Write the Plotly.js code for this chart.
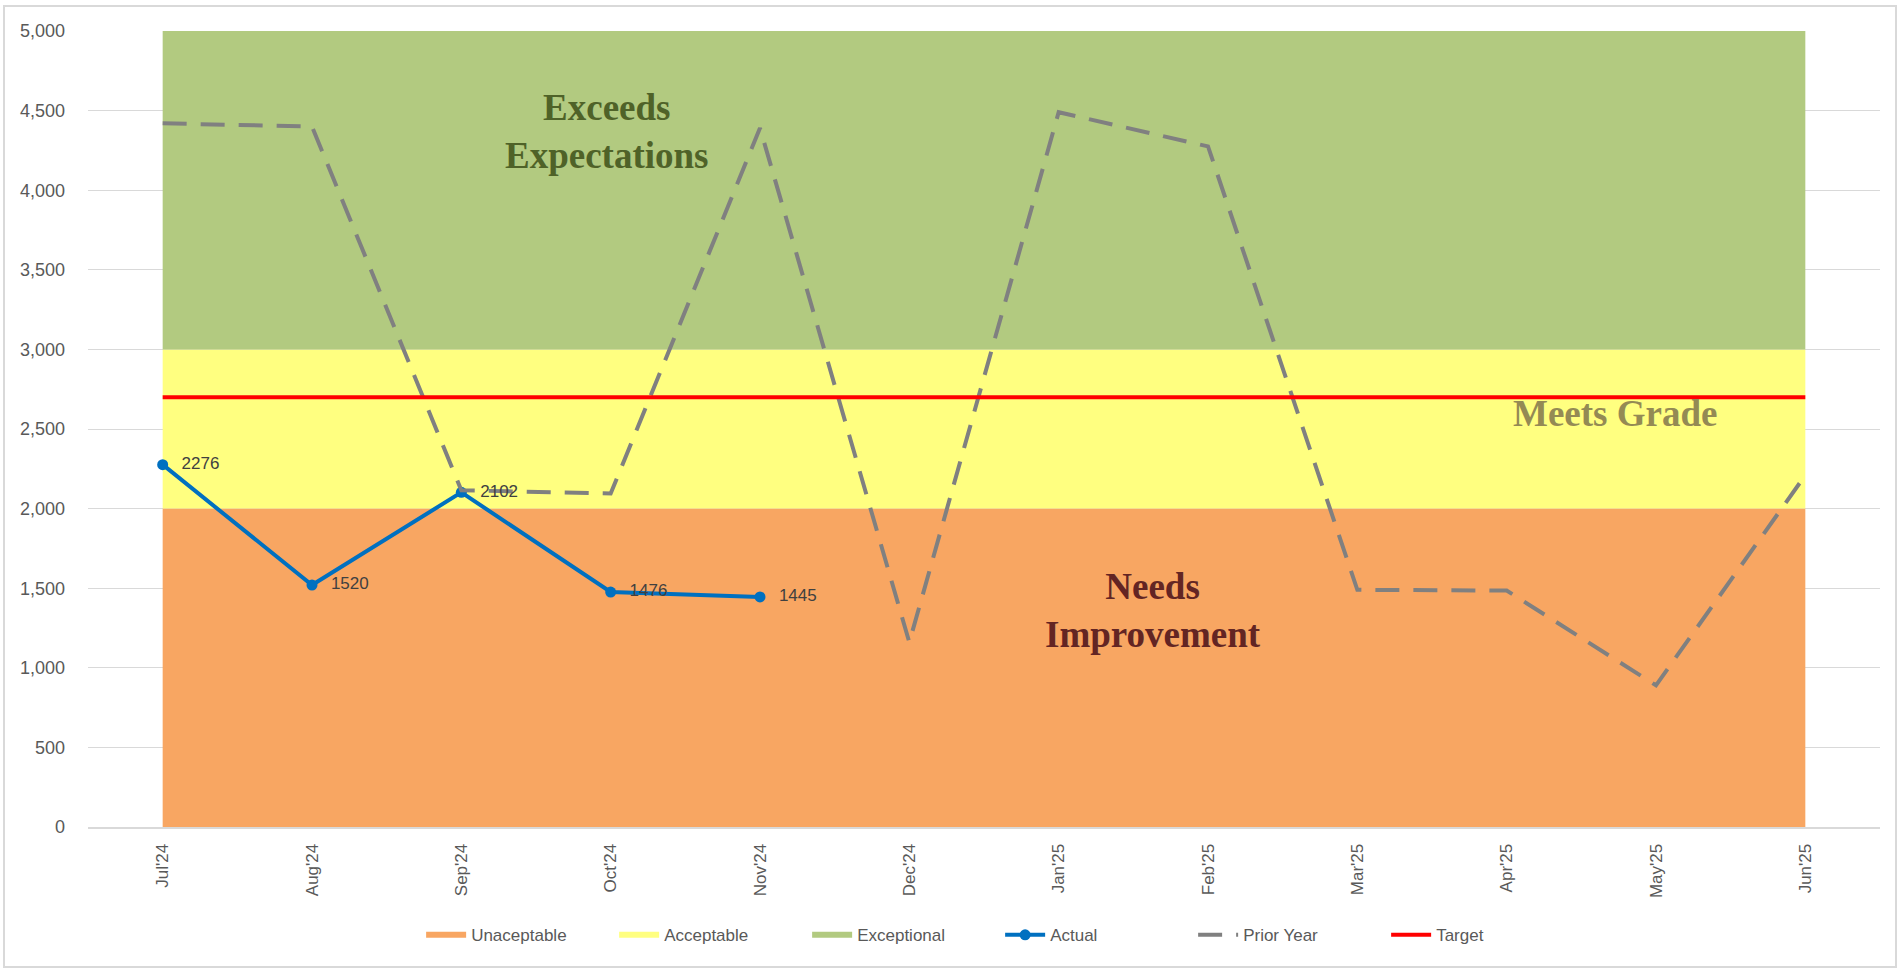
<!DOCTYPE html>
<html>
<head>
<meta charset="utf-8">
<script src="https://cdn.plot.ly/plotly-3.0.1.min.js"></script>
<style>
  html, body { margin: 0; padding: 0; background: #ffffff; }
  #wrap { position: relative; width: 1903px; height: 973px; }
  #chart { position: absolute; left: 0; top: 0; width: 1903px; height: 973px; }
  #frame { position: absolute; left: 3px; top: 5px; width: 1894px; height: 963px; border: 2px solid #d9d9d9; pointer-events: none; box-sizing: border-box; }
</style>
</head>
<body>
<div id="wrap">
  <div id="chart"></div>
  <div id="frame"></div>
</div>
<script>
// ---- data ----
const months = ["Jul'24","Aug'24","Sep'24","Oct'24","Nov'24","Dec'24","Jan'25","Feb'25","Mar'25","Apr'25","May'25","Jun'25"];
const unacceptable = [2000,2000,2000,2000,2000,2000,2000,2000,2000,2000,2000,2000];
const acceptable   = [1000,1000,1000,1000,1000,1000,1000,1000,1000,1000,1000,1000];
const exceptional  = [2000,2000,2000,2000,2000,2000,2000,2000,2000,2000,2000,2000];
const actualMonths = ["Jul'24","Aug'24","Sep'24","Oct'24","Nov'24"];
const actual = [2276,1520,2102,1476,1445];
const priorYear = [4420,4400,2115,2095,4390,1160,4490,4275,1490,1485,890,2210];
const target = [2700,2700,2700,2700,2700,2700,2700,2700,2700,2700,2700,2700];
const yTicks = [0,500,1000,1500,2000,2500,3000,3500,4000,4500,5000];

const narrow = '"Liberation Sans Narrow", "Arial Narrow", "Liberation Sans", Arial, sans-serif';
const sans = '"Liberation Sans", Arial, sans-serif';
const serif = '"Liberation Serif", "Times New Roman", serif';

const pad = '\u00a0\u00a0\u00a0\u00a0';

const traces = [
  { name: 'Unaceptable', x: months, y: unacceptable, type: 'scatter', mode: 'none',
    stackgroup: 'bands', fillcolor: '#F8A662', line: {width: 0}, hoverinfo: 'skip' },
  { name: 'Acceptable', x: months, y: acceptable, type: 'scatter', mode: 'none',
    stackgroup: 'bands', fillcolor: '#FFFF80', line: {width: 0}, hoverinfo: 'skip' },
  { name: 'Exceptional', x: months, y: exceptional, type: 'scatter', mode: 'none',
    stackgroup: 'bands', fillcolor: '#B2CA80', line: {width: 0}, hoverinfo: 'skip' },
  { name: 'Actual', x: actualMonths, y: actual, type: 'scatter', mode: 'lines+markers',
    line: {color: '#0070C0', width: 4}, marker: {color: '#0070C0', size: 11, symbol: 'circle'} },
  { name: 'Prior Year', x: months, y: priorYear, type: 'scatter', mode: 'lines',
    line: {color: '#808080', width: 4, dash: '24px,14px'} },
  { name: 'Target', x: months, y: target, type: 'scatter', mode: 'lines',
    line: {color: '#FF0000', width: 4} },
  { name: 'Actual labels', x: actualMonths, y: actual, type: 'scatter', mode: 'text',
    text: actual.map(v => pad + String(v)), textposition: 'middle right',
    textfont: {family: narrow, size: 17, color: '#404040'}, showlegend: false, hoverinfo: 'skip' }
];

const layout = {
  width: 1903, height: 973,
  margin: {l: 88, r: 23, t: 31, b: 146},
  paper_bgcolor: 'rgba(0,0,0,0)', plot_bgcolor: '#ffffff',
  showlegend: true,
  legend: {
    orientation: 'h', x: 0.509, xanchor: 'center', y: -0.136, yanchor: 'middle',
    font: {family: narrow, size: 17, color: '#595959'}, traceorder: 'normal',
    itemwidth: 40, entrywidth: 138, entrywidthmode: 'pixels'
  },
  xaxis: {
    type: 'category', range: [-0.5, 11.5],
    tickangle: -90, tickfont: {family: sans, size: 17, color: '#595959'},
    showgrid: false, zeroline: false, showline: true, linecolor: '#d9d9d9', linewidth: 2,
    ticks: '', ticklen: 0, ticklabelstandoff: 8
  },
  yaxis: {
    range: [0, 5000], tickvals: yTicks, tickformat: ',d',
    tickfont: {family: sans, size: 18, color: '#595959'},
    showgrid: true, gridcolor: '#d9d9d9', gridwidth: 1, zeroline: false, showline: false,
    ticks: '', ticklabelstandoff: 22
  },
  annotations: [
    { text: '<b>Exceeds<br>Expectations</b>', xref: 'paper', yref: 'paper',
      x: (607 - 88) / 1792, y: (827 - 132) / 796, xanchor: 'center', yanchor: 'middle',
      showarrow: false, align: 'center', font: {family: serif, size: 37, color: '#4F6228'} },
    { text: '<b>Needs<br>Improvement</b>', xref: 'paper', yref: 'paper',
      x: (1153 - 88) / 1792, y: (827 - 610) / 796, xanchor: 'center', yanchor: 'middle',
      showarrow: false, align: 'center', font: {family: serif, size: 37, color: '#632523'} },
    { text: '<b>Meets Grade</b>', xref: 'paper', yref: 'paper',
      x: (1615 - 88) / 1792, y: (827 - 413) / 796, xanchor: 'center', yanchor: 'middle',
      showarrow: false, align: 'center', font: {family: serif, size: 37, color: '#948A54'} }
  ]
};

Plotly.newPlot('chart', traces, layout, {displayModeBar: false, staticPlot: true});
</script>
</body>
</html>
